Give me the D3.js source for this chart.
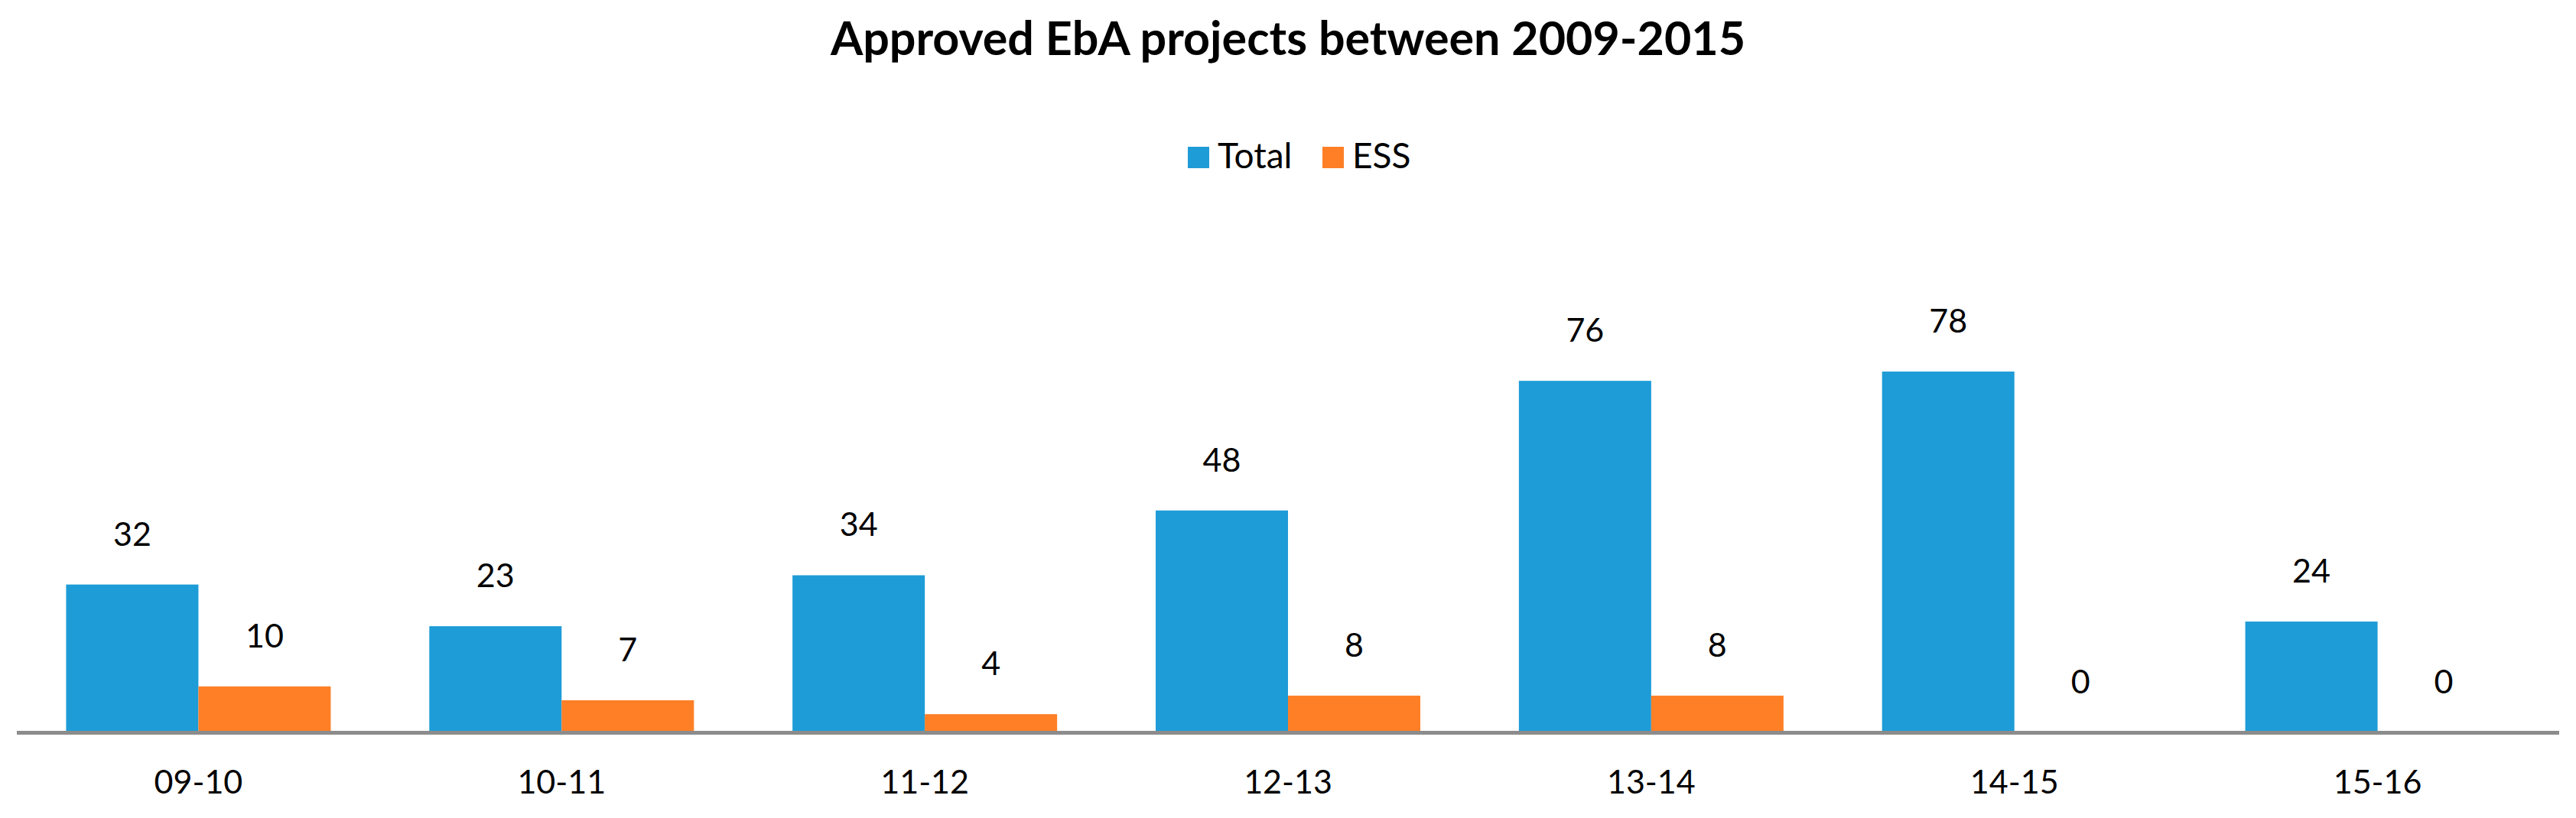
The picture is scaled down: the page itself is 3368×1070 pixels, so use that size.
<!DOCTYPE html>
<html>
<head>
<meta charset="utf-8">
<script src="https://cdn.jsdelivr.net/npm/d3@7"></script>
<style>
  body { margin: 0; background: #fff; }
  text { font-family: Lato, "Open Sans", sans-serif; fill: #000; }
</style>
</head>
<body>
<div id="chart"></div>
<script>
// data
const categories = ["09-10", "10-11", "11-12", "12-13", "13-14", "14-15", "15-16"];
const seriesNames = ["Total", "ESS"];
const totalValues = [32, 23, 34, 48, 76, 78, 24];
const essValues = [10, 7, 4, 8, 8, 0, 0];
const colors = ["#1E9CD7", "#FF7F27"];

const width = 3368, height = 1070;

const svg = d3.select("#chart").append("svg")
  .attr("width", width)
  .attr("height", height);

const rows = categories.map((c, i) => ({ cat: c, values: [totalValues[i], essValues[i]] }));

const barFrac = 346 / 474.86;
const x0 = d3.scaleBand()
  .domain(categories)
  .range([22, 3346])
  .paddingInner(1 - barFrac)
  .paddingOuter((1 - barFrac) / 2);

const x1 = d3.scaleBand()
  .domain(seriesNames)
  .range([0, x0.bandwidth()]);

const y = d3.scaleLinear()
  .domain([0, 90])
  .range([958.4, 958.4 - 90 * 6.056]);

// title
svg.append("text")
  .attr("x", width / 2)
  .attr("y", 72)
  .attr("text-anchor", "middle")
  .style("font-weight", "bold")
  .style("font-size", "61px")
  .text("Approved EbA projects between 2009-2015");

// legend
const legend = svg.append("g").attr("transform", "translate(1553,192)");
const legendX = [0, 176];
const items = legend.selectAll("g")
  .data(seriesNames)
  .join("g")
  .attr("transform", (d, i) => `translate(${legendX[i]},0)`);
items.append("rect")
  .attr("width", 28)
  .attr("height", 28)
  .attr("fill", (d, i) => colors[i]);
items.append("text")
  .attr("x", 39)
  .attr("y", 28)
  .style("font-size", "46px")
  .text(d => d);

// bars
const groups = svg.append("g")
  .selectAll("g")
  .data(rows)
  .join("g")
  .attr("transform", d => `translate(${x0(d.cat)},0)`);

groups.selectAll("rect")
  .data(d => d.values.map((v, i) => ({ key: seriesNames[i], value: v, i })))
  .join("rect")
  .attr("x", d => x1(d.key))
  .attr("width", x1.bandwidth())
  .attr("y", d => y(d.value))
  .attr("height", d => y(0) - y(d.value))
  .attr("fill", d => colors[d.i]);

groups.selectAll("text.label")
  .data(d => d.values.map((v, i) => ({ key: seriesNames[i], value: v })))
  .join("text")
  .attr("class", "label")
  .attr("x", d => x1(d.key) + x1.bandwidth() / 2)
  .attr("y", d => y(d.value) - 51)
  .attr("text-anchor", "middle")
  .style("font-size", "43px")
  .text(d => d.value);

// x axis
const xAxis = svg.append("g")
  .attr("transform", `translate(0,${y(0)})`)
  .call(d3.axisBottom(x0).tickSize(0).tickPadding(0));
xAxis.select(".domain")
  .attr("stroke", "#8C8C8C")
  .attr("stroke-width", 5)
  .attr("d", "M22,0H3346");
xAxis.selectAll(".tick text")
  .attr("dy", 0)
  .attr("y", 1038 - 958.4)
  .style("font-size", "43px")
  .style("font-family", "Lato, 'Open Sans', sans-serif")
  .attr("fill", "#000");
</script>
</body>
</html>
